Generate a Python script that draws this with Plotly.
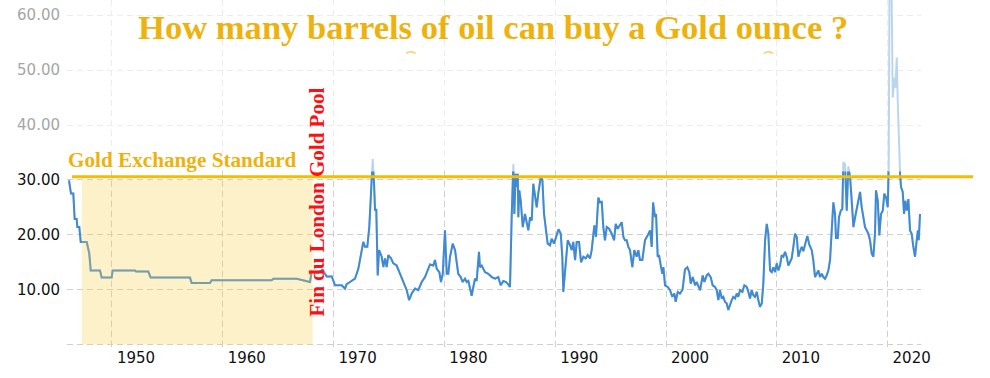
import plotly.graph_objects as go

# ---- data ----
years = [
    1946.12, 1946.30, 1946.51, 1946.63, 1946.81, 1946.87, 1947.05, 1947.18, 1947.72, 1947.95,
    1948.08, 1948.92, 1949.07, 1949.97, 1950.06, 1952.08, 1952.17, 1953.28, 1953.49, 1957.04,
    1957.19, 1958.84, 1958.99, 1964.41, 1964.56, 1966.67, 1967.87, 1968.02, 1968.60, 1969.00,
    1969.38, 1969.83, 1970.13, 1970.73, 1971.03, 1971.18, 1971.48, 1971.93, 1972.23, 1972.68,
    1972.83, 1973.04, 1973.22, 1973.38, 1973.53, 1973.65, 1973.74, 1973.85, 1973.98, 1974.10,
    1974.34, 1974.49, 1974.64, 1974.79, 1974.94, 1975.18, 1975.39, 1975.69, 1975.99, 1976.29,
    1976.60, 1976.81, 1977.05, 1977.35, 1977.64, 1977.95, 1978.25, 1978.70, 1979.00, 1979.15,
    1979.31, 1979.54, 1979.69, 1979.85, 1980.05, 1980.21, 1980.35, 1980.51, 1980.75, 1980.96,
    1981.11, 1981.25, 1981.47, 1981.65, 1981.86, 1982.01, 1982.16, 1982.31, 1982.46, 1982.61,
    1982.76, 1982.91, 1983.12, 1983.21, 1983.37, 1983.66, 1983.96, 1984.27, 1984.57, 1984.86,
    1985.08, 1985.32, 1985.56, 1985.71, 1985.92, 1986.07, 1986.22, 1986.31, 1986.43, 1986.53,
    1986.62, 1986.67, 1986.76, 1986.89, 1987.07, 1987.27, 1987.43, 1987.57, 1987.73, 1987.88,
    1988.02, 1988.18, 1988.33, 1988.47, 1988.69, 1988.84, 1988.99, 1989.17, 1989.32, 1989.53,
    1989.68, 1989.89, 1990.07, 1990.30, 1990.50, 1990.64, 1990.73, 1990.95, 1991.13, 1991.34,
    1991.49, 1991.63, 1991.79, 1991.94, 1992.15, 1992.33, 1992.54, 1992.75, 1992.93, 1993.14,
    1993.29, 1993.53, 1993.68, 1993.89, 1994.04, 1994.20, 1994.34, 1994.49, 1994.65, 1994.86,
    1995.10, 1995.31, 1995.46, 1995.64, 1995.85, 1996.00, 1996.15, 1996.30, 1996.45, 1996.60,
    1996.75, 1996.96, 1997.14, 1997.35, 1997.50, 1997.65, 1997.86, 1998.10, 1998.35, 1998.56,
    1998.71, 1998.83, 1999.01, 1999.10, 1999.25, 1999.37, 1999.55, 1999.67, 1999.76, 1999.91,
    2000.15, 2000.36, 2000.57, 2000.75, 2000.87, 2001.06, 2001.26, 2001.49, 2001.71, 2001.92,
    2002.10, 2002.23, 2002.41, 2002.62, 2002.77, 2002.92, 2003.07, 2003.31, 2003.46, 2003.67,
    2003.82, 2004.03, 2004.21, 2004.42, 2004.58, 2004.72, 2004.87, 2005.03, 2005.17, 2005.32,
    2005.48, 2005.62, 2005.78, 2005.93, 2006.07, 2006.23, 2006.38, 2006.52, 2006.68, 2006.89,
    2007.07, 2007.28, 2007.43, 2007.58, 2007.73, 2007.88, 2008.03, 2008.19, 2008.33, 2008.48,
    2008.64, 2008.78, 2008.94, 2009.09, 2009.23, 2009.39, 2009.54, 2009.68, 2009.84, 2009.99,
    2010.14, 2010.29, 2010.44, 2010.59, 2010.74, 2010.89, 2011.04, 2011.19, 2011.34, 2011.49,
    2011.64, 2011.80, 2011.94, 2012.09, 2012.25, 2012.39, 2012.55, 2012.75, 2012.93, 2013.15,
    2013.29, 2013.45, 2013.60, 2013.75, 2013.90, 2014.05, 2014.20, 2014.35, 2014.50, 2014.65,
    2014.80, 2014.95, 2015.10, 2015.25, 2015.34, 2015.50, 2015.61, 2015.77, 2015.91, 2016.00,
    2016.15, 2016.31, 2016.45, 2016.61, 2016.76, 2016.91, 2017.06, 2017.21, 2017.36, 2017.51,
    2017.66, 2017.81, 2017.96, 2018.11, 2018.26, 2018.41, 2018.56, 2018.71, 2018.86, 2018.95,
    2019.11, 2019.25, 2019.40, 2019.56, 2019.70, 2019.86, 2020.01, 2020.10, 2020.22, 2020.46,
    2020.61, 2020.70, 2020.82, 2020.91, 2021.00, 2021.12, 2021.21, 2021.36, 2021.48, 2021.60,
    2021.72, 2021.87, 2022.02, 2022.17, 2022.32, 2022.47, 2022.62, 2022.73, 2022.81, 2022.92,
]
ratio = [
    29.9, 27.5, 27.5, 22.9, 22.9, 21.4, 21.4, 18.7, 18.7, 16.6,
    13.5, 13.5, 12.2, 12.2, 13.5, 13.5, 13.3, 13.3, 12.2, 12.2,
    11.2, 11.2, 11.7, 11.7, 12.0, 12.0, 11.4, 13.3, 13.1, 13.6,
    12.4, 12.4, 10.8, 10.8, 10.2, 11.0, 11.4, 12.0, 13.8, 18.7,
    17.8, 17.8, 21.4, 26.8, 33.8, 29.3, 24.4, 24.7, 12.6, 17.2,
    16.0, 14.1, 15.7, 14.1, 16.3, 15.7, 14.8, 14.4, 12.9, 11.4,
    9.9, 8.1, 9.3, 10.2, 9.9, 11.4, 12.3, 14.6, 14.4, 15.4,
    13.8, 13.2, 11.4, 12.9, 20.8, 12.9, 12.9, 16.0, 18.4, 17.2,
    14.8, 12.9, 12.3, 11.4, 12.0, 11.4, 11.6, 10.2, 8.9, 10.5,
    12.0, 11.6, 16.9, 14.1, 14.4, 13.2, 12.9, 12.3, 12.0, 12.3,
    10.8, 11.6, 11.4, 11.1, 10.5, 23.2, 32.9, 23.8, 31.1, 28.7,
    31.1, 23.2, 28.1, 26.2, 21.4, 23.8, 22.0, 20.8, 23.2, 22.6,
    29.3, 26.8, 25.0, 27.5, 30.5, 30.0, 23.8, 20.8, 18.4, 18.1,
    19.3, 18.4, 19.5, 21.0, 20.2, 16.0, 9.6, 15.4, 19.0, 18.1,
    17.2, 18.7, 15.4, 18.7, 18.7, 15.0, 16.0, 15.7, 16.3, 15.7,
    17.2, 21.7, 19.6, 26.8, 25.9, 26.0, 21.4, 19.0, 21.4, 21.1,
    20.2, 19.0, 22.0, 21.1, 21.7, 22.3, 19.6, 19.0, 19.0, 17.8,
    17.2, 14.1, 17.2, 16.0, 17.2, 15.4, 15.4, 19.0, 19.9, 20.8,
    17.8, 25.9, 23.2, 23.8, 16.0, 16.3, 14.1, 12.9, 14.1, 10.8,
    10.5, 9.9, 8.7, 9.3, 7.8, 9.6, 9.3, 10.0, 13.7, 14.1,
    13.2, 11.1, 12.3, 10.8, 11.4, 10.5, 9.9, 12.6, 11.4, 12.6,
    12.9, 12.3, 10.8, 10.5, 9.9, 8.1, 9.9, 8.4, 8.7, 7.8,
    7.5, 6.3, 7.5, 8.1, 8.7, 8.4, 9.3, 8.7, 9.9, 9.6,
    10.8, 10.5, 9.6, 8.4, 9.9, 9.0, 8.7, 9.6, 8.1, 6.9,
    7.5, 11.1, 19.0, 22.0, 20.2, 13.5, 13.2, 14.1, 13.2, 14.8,
    13.5, 14.4, 16.3, 16.0, 16.9, 16.0, 14.4, 15.0, 15.7, 17.8,
    20.2, 19.6, 16.0, 17.0, 17.8, 17.0, 18.4, 19.8, 18.2, 17.2,
    15.4, 12.3, 12.9, 13.5, 12.3, 12.9, 12.3, 12.0, 12.6, 13.5,
    15.4, 20.2, 25.9, 23.8, 19.4, 19.4, 23.2, 24.4, 24.7, 33.2,
    32.9, 24.4, 32.5, 30.5, 26.8, 21.4, 23.2, 25.0, 26.2, 27.8,
    25.0, 23.2, 21.4, 20.8, 20.2, 19.0, 16.6, 16.0, 20.2, 28.1,
    26.2, 19.9, 23.8, 24.4, 27.5, 26.8, 25.0, 33.0, 90.0, 45.0,
    48.6, 46.8, 52.3, 44.4, 37.1, 31.1, 28.7, 27.8, 23.8, 26.2,
    24.4, 26.5, 20.8, 20.2, 17.8, 16.0, 19.0, 20.8, 19.0, 23.8,
]

x_tickvals = [1950, 1960, 1970, 1980, 1990, 2000, 2010, 2020]
x_ticktext = ["1950", "1960", "1970", "1980", "1990", "2000", "2010", "2020"]
y_low_tickvals = [0, 10, 20, 30]
y_low_ticktext = ["", "10.00", "20.00", "30.00"]
y_high_tickvals = [40, 50, 60]
y_high_ticktext = ["40.00", "50.00", "60.00"]

ref_level = 30.58          # "Gold Exchange Standard" line
shade_start, shade_end, shade_top = 1947.27, 1968.11, 30.0

title_text = "How many barrels of oil can buy a Gold ounce ?"
standard_text = "Gold Exchange Standard"
pool_text = "Fin du London Gold Pool"

# ---- axes geometry ----
X_RANGE = [1945.94, 2023.01]
Y_RANGE = [-0.44, 62.77]
Y_CLIP_TOP = 31.53
low_domain_top = (Y_CLIP_TOP - Y_RANGE[0]) / (Y_RANGE[1] - Y_RANGE[0])

DARK = "#3f8ad3"
LIGHT = "#bcd5ee"
GOLD = "#f5bd00"
TEXT_GOLD = "#eeb20f"
GRID_DARK = "#cfcfcf"
GRID_LIGHT = "#ececec"
DASH = "6px,4px"

fig = go.Figure()
fig.add_trace(go.Scatter(x=years, y=ratio, xaxis="x", yaxis="y", mode="lines",
                         line=dict(color=LIGHT, width=2), hoverinfo="skip"))
fig.add_trace(go.Scatter(x=years, y=ratio, xaxis="x2", yaxis="y2", mode="lines",
                         line=dict(color=DARK, width=2)))

tick_font = dict(family="DejaVu Sans, Verdana, sans-serif", size=15, color="#111111")

fig.update_layout(
    width=990, height=378,
    margin=dict(l=67, r=69, t=0, b=31, autoexpand=False),
    paper_bgcolor="white",
    plot_bgcolor="rgba(0,0,0,0)",
    showlegend=False,
    xaxis=dict(range=X_RANGE, domain=[0, 1], anchor="y", tickvals=x_tickvals,
               ticktext=x_ticktext, ticklabelshift=24, tickfont=tick_font,
               showgrid=True, gridcolor=GRID_LIGHT, griddash=DASH, gridwidth=1,
               zeroline=False, showline=False, ticks="", automargin=False),
    xaxis2=dict(range=X_RANGE, domain=[0, 1], anchor="y2", matches="x",
                tickvals=x_tickvals, showticklabels=False,
                showgrid=True, gridcolor=GRID_DARK, griddash=DASH, gridwidth=1,
                zeroline=False, showline=False, ticks="", automargin=False),
    yaxis=dict(range=Y_RANGE, domain=[0, 1], anchor="x", tickvals=y_high_tickvals,
               ticktext=y_high_ticktext,
               tickfont=dict(family="DejaVu Sans, Verdana, sans-serif", size=15, color="#a6a6a6"),
               showgrid=True, gridcolor=GRID_LIGHT, griddash=DASH, zeroline=False,
               showline=False, ticks="", ticklabelstandoff=6, automargin=False),
    yaxis2=dict(range=[Y_RANGE[0], Y_CLIP_TOP], domain=[0, low_domain_top], anchor="x2",
                tickvals=y_low_tickvals, ticktext=y_low_ticktext, tickfont=tick_font,
                showgrid=True, gridcolor=GRID_DARK, griddash=DASH, zeroline=False,
                showline=False, ticks="", ticklabelstandoff=6, automargin=False),
    shapes=[
        dict(type="rect", xref="x", yref="y", x0=shade_start, x1=shade_end,
             y0=0, y1=shade_top, fillcolor="rgba(250,210,80,0.30)",
             line=dict(width=0), layer="above"),
        dict(type="line", xref="paper", yref="y", x0=0.0059, x1=1.061,
             y0=ref_level, y1=ref_level, line=dict(color=GOLD, width=3), layer="above"),
        dict(type="path", xref="paper", yref="paper",
             path="M 0.397,0.846 Q 0.4025,0.856 0.408,0.846",
             line=dict(color="rgba(240,180,60,0.55)", width=2), layer="above"),
        dict(type="path", xref="paper", yref="paper",
             path="M 0.816,0.846 Q 0.8215,0.856 0.827,0.846",
             line=dict(color="rgba(240,180,60,0.55)", width=2), layer="above"),
    ],
    annotations=[
        dict(text="<b>" + title_text + "</b>", xref="paper", yref="paper",
             x=0.4994, y=0.922, xanchor="center", yanchor="middle", showarrow=False,
             font=dict(family="Liberation Serif, Times New Roman, serif", size=34.6, color=TEXT_GOLD)),
        dict(text="<b>" + standard_text + "</b>", xref="paper", yref="paper",
             x=-0.001, y=0.5375, xanchor="left", yanchor="middle", showarrow=False,
             font=dict(family="Liberation Serif, Times New Roman, serif", size=21.2, color=TEXT_GOLD)),
        dict(text="<b>" + pool_text + "</b>", xref="paper", yref="paper",
             x=0.2927, y=0.4193, xanchor="center", yanchor="middle", showarrow=False,
             textangle=-90,
             font=dict(family="Liberation Serif, Times New Roman, serif", size=21, color="#ff1010")),
    ],
)

fig.write_html("out.html", config={"displayModeBar": False},
               post_script="document.body.style.margin='0';")
